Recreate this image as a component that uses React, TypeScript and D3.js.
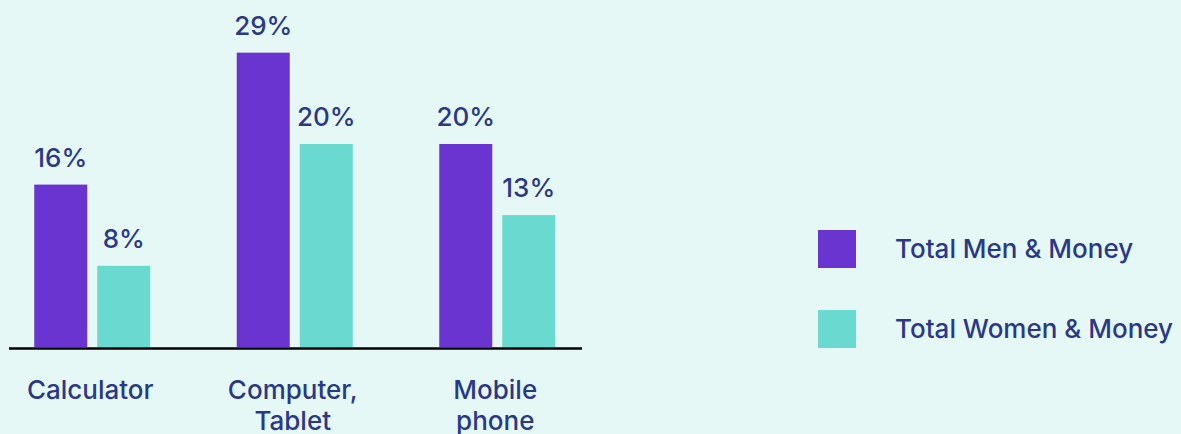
import React from "react";
import * as d3 from "d3";

const categories = ["Calculator", "Computer, Tablet", "Mobile phone"];
const categoryLines = [["Calculator"], ["Computer,", "Tablet"], ["Mobile", "phone"]];
const seriesNames = ["Total Men & Money", "Total Women & Money"];
const menValues = [16, 29, 20];
const womenValues = [8, 20, 13];
const seriesColors = ["#6A34D0", "#6AD9D0"];

const W = 1181;
const H = 434;
const TEXT = "#2B3886";
const FONT = "Inter, 'Noto Sans', sans-serif";

export default function App() {
  const baseY = 347;
  const x = d3.scaleBand<string>().domain(categories).range([-9, 598.5]).paddingInner(0).paddingOuter(0);
  const inner = d3.scaleBand<string>().domain(seriesNames).range([0, 116]).paddingInner(10 / 63);
  const y = d3.scaleLinear().domain([0, 30]).range([baseY, baseY - 304.5]);
  const series = [menValues, womenValues];

  return (
    <svg width={W} height={H} style={{ position: "absolute", left: 0, top: 0, display: "block" }} fontFamily={FONT}>
      <rect x={0} y={0} width={W} height={H} fill="#E6F8F6" />
      {categories.map((c, i) => {
        const cx = (x(c) as number) + x.bandwidth() / 2;
        const gx = cx - 58;
        return (
          <g key={c}>
            {seriesNames.map((s, k) => {
              const v = series[k][i];
              const bx = gx + (inner(s) as number);
              return (
                <g key={s}>
                  <rect x={bx} y={y(v)} width={inner.bandwidth()} height={baseY - y(v)} fill={seriesColors[k]} />
                  <text x={bx + inner.bandwidth() / 2} y={y(v) - 18} textAnchor="middle" fontSize={26} fontWeight={500} fill={TEXT}>
                    {v}%
                  </text>
                </g>
              );
            })}
            {categoryLines[i].map((line, j) => (
              <text key={j} x={cx - 2} y={399 + j * 31} textAnchor="middle" fontSize={26} fontWeight={500} fill={TEXT}>
                {line}
              </text>
            ))}
          </g>
        );
      })}
      <line x1={9} x2={582} y1={348.5} y2={348.5} stroke="#000" strokeWidth={2.5} />
      {seriesNames.map((s, k) => (
        <g key={s}>
          <rect x={818} y={230 + k * 80} width={38} height={38} fill={seriesColors[k]} />
          <text x={895} y={258 + k * 80} fontSize={26} fontWeight={500} fill={TEXT}>
            {s}
          </text>
        </g>
      ))}
    </svg>
  );
}
